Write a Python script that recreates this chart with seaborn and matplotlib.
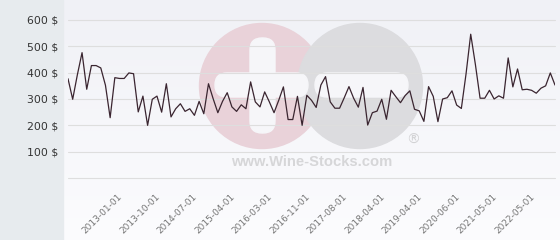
import numpy as np
import pandas as pd
import matplotlib
matplotlib.use("Agg")
import matplotlib.pyplot as plt
from matplotlib.patches import Circle, Rectangle, FancyBboxPatch
from matplotlib.colors import LinearSegmentedColormap
import seaborn as sns

# ---- data ----
prices = [377, 299, 392, 476, 337, 427, 427, 418, 352, 229,
          381, 378, 378, 399, 396, 251, 311, 200, 299, 311,
          250, 358, 232, 263, 282, 253, 263, 238, 291, 244,
          358, 301, 248, 291, 324, 270, 253, 278, 263, 365,
          289, 270, 327, 289, 248, 295, 346, 222, 222, 310,
          200, 314, 295, 268, 353, 385, 289, 265, 265, 305,
          347, 303, 269, 344, 201, 248, 254, 299, 223, 333,
          309, 286, 313, 331, 261, 255, 215, 347, 310, 214,
          300, 305, 331, 277, 264, 395, 546, 431, 303, 303,
          333, 300, 312, 303, 456, 346, 414, 335, 337, 333,
          322, 341, 350, 399, 353]
tick_index = [12, 20, 28, 36, 44, 52, 60, 68, 76, 84, 92, 100]
tick_labels = ["2013-01-01", "2013-10-01", "2014-07-01", "2015-04-01",
               "2016-03-01", "2016-11-01", "2017-08-01", "2018-04-01",
               "2019-04-01", "2020-06-01", "2021-05-01", "2022-05-01"]
y_ticks = [0, 100, 200, 300, 400, 500, 600]
y_labels = ["", "100 $", "200 $", "300 $", "400 $", "500 $", "600 $"]

df = pd.DataFrame({"idx": np.arange(len(prices)), "price": prices})

sns.set_theme(style="white")
plt.rcParams["font.family"] = ["DejaVu Sans"]

W, H = 560, 240
fig = plt.figure(figsize=(W / 100, H / 100), dpi=100)
fig.patch.set_facecolor("white")

# ---- background / watermark layer (pixel coordinates) ----
bg = fig.add_axes([0, 0, 1, 1], zorder=0)
bg.set_xlim(0, W)
bg.set_ylim(H, 0)
bg.axis("off")
cmap = LinearSegmentedColormap.from_list("bg", ["#f0f1f6", "#fcfcfe"])
grad = np.linspace(0, 1, 256).reshape(-1, 1)
bg.imshow(grad, extent=[63, W, H, 0], cmap=cmap, aspect="auto", zorder=0)
bg.add_patch(Rectangle((0, 0), 63, H, color="#e7ebee", zorder=1))

bg.add_patch(Circle((262, 86), 62.5, color="#e9d2d9", zorder=2))
bg.add_patch(Circle((360, 86), 62.5, color="#dcdcdf", zorder=3))
white = "#f6f6f9"
bg.add_patch(FancyBboxPatch((250, 38), 25, 95, boxstyle="round,pad=0,rounding_size=12",
                            color=white, zorder=4))
bg.add_patch(FancyBboxPatch((215, 73), 93, 24, boxstyle="round,pad=0,rounding_size=12",
                            color=white, zorder=4))
bg.add_patch(FancyBboxPatch((315, 73), 93, 24, boxstyle="round,pad=0,rounding_size=12",
                            color=white, zorder=4))
bg.text(312, 162, "www.Wine-Stocks.com", ha="center", va="center", fontsize=10.6,
        fontweight="bold", family=["Liberation Sans", "DejaVu Sans"],
        color="#d6d6d8", zorder=5)
bg.text(413, 140, "®", ha="center", va="center", fontsize=10, color="#d2d2d4", zorder=5)

# ---- main chart ----
ax = fig.add_axes([68 / W, (H - 178) / H, (555 - 68) / W, (178 - 20) / H], zorder=1)
ax.set_facecolor("none")
sns.lineplot(data=df, x="idx", y="price", ax=ax, color="#3a2530", linewidth=0.9)
ax.set_xlim(0, len(prices) - 1)
ax.set_ylim(0, 600)
ax.set_yticks(y_ticks)
ax.set_yticklabels(y_labels)
ax.set_xticks(tick_index)
ax.set_xticklabels(tick_labels, rotation=45, ha="right", va="top")
ax.tick_params(axis="y", length=0, pad=7, labelsize=7.8, labelcolor="#333333")
ax.tick_params(axis="x", length=0, pad=10, labelsize=6.5, labelcolor="#777777")
ax.grid(axis="y", color="#dedede", linewidth=0.8)
ax.grid(axis="x", visible=False)
for gl in ax.get_ygridlines():
    gl.set_clip_on(False)
for s in ax.spines.values():
    s.set_visible(False)
ax.set_xlabel("")
ax.set_ylabel("")

fig.savefig("out.png", dpi=100)
